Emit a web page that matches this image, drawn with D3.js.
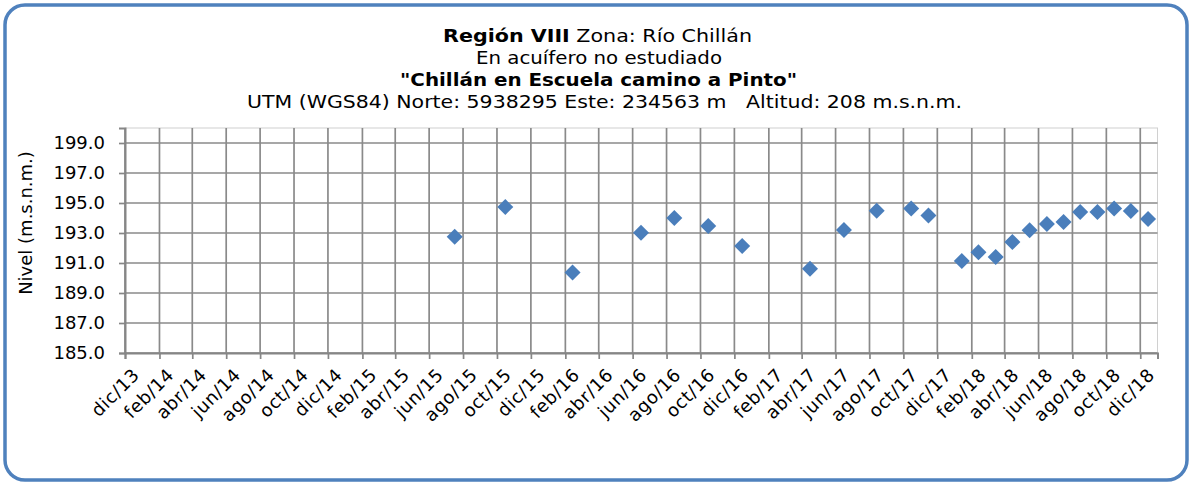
<!DOCTYPE html>
<html>
<head>
<meta charset="utf-8">
<script src="https://cdn.jsdelivr.net/npm/d3@7"></script>
<style>
  html, body { margin: 0; padding: 0; background: #fff; }
  svg { display: block; font-family: "DejaVu Sans", Verdana, sans-serif; }
</style>
</head>
<body>
<svg id="chart" width="1192" height="485"></svg>
<script>
// Measurement dates and groundwater levels (m.s.n.m.)
const dates = ["2015-07-17","2015-10-16","2016-02-14","2016-06-16","2016-08-15","2016-10-15",
  "2016-12-15","2017-04-16","2017-06-16","2017-08-14","2017-10-15","2017-11-15","2018-01-14",
  "2018-02-13","2018-03-16","2018-04-15","2018-05-16","2018-06-16","2018-07-16","2018-08-15",
  "2018-09-15","2018-10-15","2018-11-14","2018-12-15"];
const levels = [192.75,194.73,190.36,193.02,194.0,193.47,192.13,190.62,193.2,194.49,194.64,
  194.16,191.13,191.71,191.4,192.4,193.18,193.6,193.73,194.4,194.4,194.64,194.47,193.93];

// Axis ranges and tick values
const xStart = "2013-12-01", xEnd = "2019-01-01";
const yMin = 185, yMax = 200;
const yTicks = [185, 187, 189, 191, 193, 195, 197, 199];
const monthNames = ["ene","feb","mar","abr","may","jun","jul","ago","sep","oct","nov","dic"];

const parse = d3.utcParse("%Y-%m-%d");
const points = dates.map((d, i) => ({ date: parse(d), value: levels[i] }));

const svg = d3.select("#chart");
const plot = { left: 125, right: 1157.5, top: 128, bottom: 353 };

const x = d3.scaleUtc().domain([parse(xStart), parse(xEnd)]).range([plot.left, plot.right]);
const y = d3.scaleLinear().domain([yMin, yMax]).range([plot.bottom, plot.top]);
// a tick every two months, starting in December
const xTicks = d3.utcMonth.range(parse(xStart), parse(xEnd), 2);
const fmtX = d => monthNames[d.getUTCMonth()] + "/" + String(d.getUTCFullYear()).slice(2);

// Outer frame
svg.append("rect")
  .attr("x", 5).attr("y", 5).attr("width", 1182).attr("height", 475)
  .attr("rx", 20).attr("ry", 20)
  .attr("fill", "#fff").attr("stroke", "#4f81bd").attr("stroke-width", 3.5);

// Titles (stretched to the width of the wider original face)
const title = svg.append("g").attr("text-anchor", "middle").attr("fill", "#000").style("font-size", "18px");
const t1 = title.append("text").attr("x", 597.5).attr("y", 41.5)
  .attr("textLength", 309).attr("lengthAdjust", "spacingAndGlyphs");
t1.append("tspan").attr("font-weight", "bold").text("Región VIII");
t1.append("tspan").text(" Zona: Río Chillán");
title.append("text").attr("x", 599).attr("y", 63.5)
  .attr("textLength", 246).attr("lengthAdjust", "spacingAndGlyphs")
  .text("En acuífero no estudiado");
title.append("text").attr("x", 598.5).attr("y", 86).attr("font-weight", "bold")
  .attr("textLength", 397).attr("lengthAdjust", "spacingAndGlyphs")
  .text("\"Chillán en Escuela camino a Pinto\"");
title.append("text").attr("x", 604.5).attr("y", 108).attr("xml:space", "preserve")
  .attr("textLength", 715).attr("lengthAdjust", "spacingAndGlyphs")
  .text("UTM (WGS84) Norte: 5938295 Este: 234563 m   Altitud: 208 m.s.n.m.");

// Plot border (top / right)
svg.append("rect")
  .attr("x", plot.left).attr("y", plot.top)
  .attr("width", plot.right - plot.left).attr("height", plot.bottom - plot.top)
  .attr("fill", "none").attr("stroke", "#d0d0d0").attr("stroke-width", 1);

// Gridlines
const grid = svg.append("g").attr("stroke", "#8a8a8a").attr("stroke-width", 1.7);
grid.selectAll("line.h").data(yTicks).join("line").attr("class", "h")
  .attr("x1", plot.left).attr("x2", plot.right)
  .attr("y1", d => y(d)).attr("y2", d => y(d));
grid.selectAll("line.v").data(xTicks).join("line").attr("class", "v")
  .attr("x1", d => x(d)).attr("x2", d => x(d))
  .attr("y1", plot.top).attr("y2", plot.bottom);

// Y axis
const yAxis = svg.append("g").attr("transform", `translate(${plot.left},0)`)
  .call(d3.axisLeft(y).tickValues(yTicks).tickSize(6).tickPadding(14).tickFormat(d3.format(".1f")));
yAxis.select(".domain").attr("stroke", "#868686").attr("stroke-width", 2);
yAxis.selectAll(".tick line").attr("stroke", "#868686").attr("stroke-width", 1.7);
yAxis.selectAll(".tick text").style("font-size", "18px").attr("fill", "#000")
  .style("font-family", "'DejaVu Sans', Verdana, sans-serif");

// X axis
const xAxis = svg.append("g").attr("transform", `translate(0,${plot.bottom})`)
  .call(d3.axisBottom(x).tickValues(xTicks).tickSize(6).tickFormat(fmtX));
xAxis.select(".domain").attr("stroke", "#868686").attr("stroke-width", 2);
xAxis.selectAll(".tick line").attr("stroke", "#868686").attr("stroke-width", 1.7);
xAxis.selectAll(".tick text")
  .style("font-size", "18px").attr("fill", "#000")
  .style("font-family", "'DejaVu Sans', Verdana, sans-serif")
  .style("letter-spacing", "0.6px")
  .attr("text-anchor", "end")
  .attr("dy", null)
  .attr("y", 0)
  .attr("transform", "translate(15,23) rotate(-45)");

// Y axis title
svg.append("text")
  .attr("transform", "translate(32,223) rotate(-90)")
  .attr("text-anchor", "middle")
  .style("font-size", "18px")
  .text("Nivel (m.s.n.m.)");

// Markers
svg.append("g").selectAll("path").data(points).join("path")
  .attr("transform", d => `translate(${x(d.date)},${y(d.value)}) rotate(45)`)
  .attr("d", d3.symbol(d3.symbolSquare, 128))
  .attr("fill", "#4a7ebb");
</script>
</body>
</html>
